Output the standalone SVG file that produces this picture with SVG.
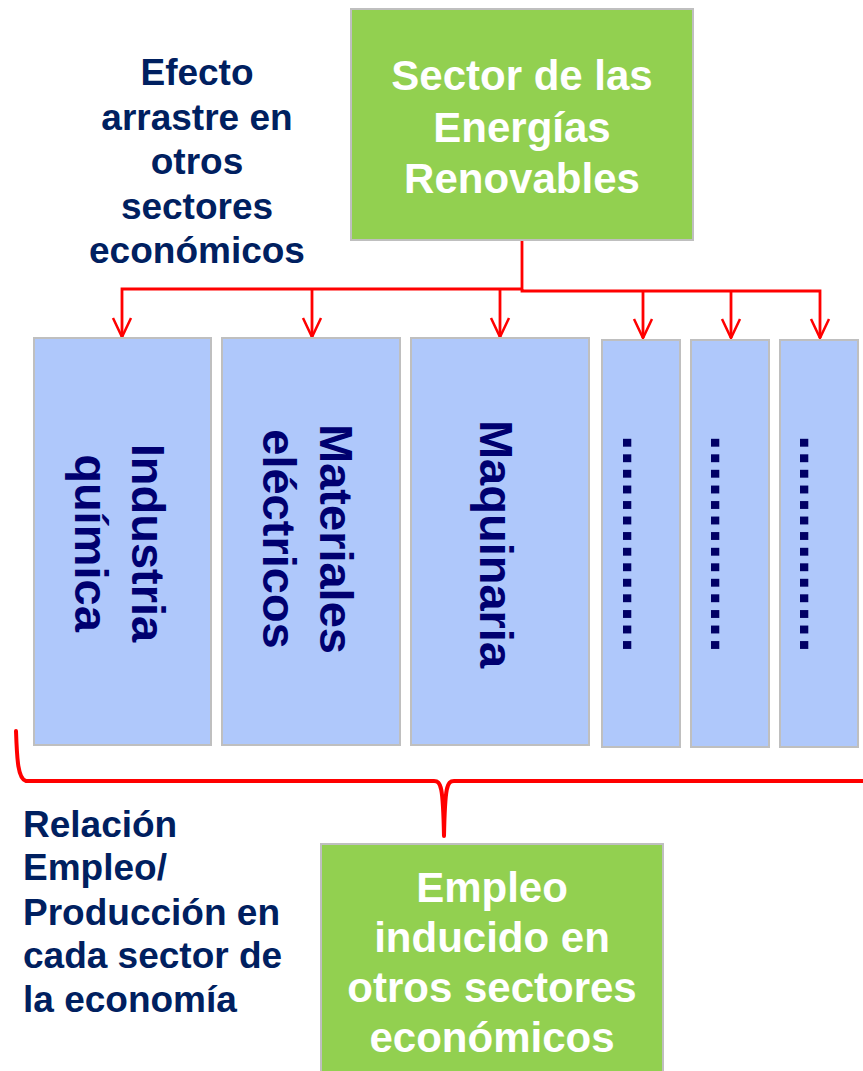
<svg xmlns="http://www.w3.org/2000/svg" width="863" height="1071" viewBox="0 0 863 1071">
<defs>
<style>
.t{font-family:"Liberation Sans",Arial,sans-serif;font-weight:bold}
.green{fill:#92D050;stroke:#BFBFBF;stroke-width:2}
.blue{fill:#AFC8FB;stroke:#BFBFBF;stroke-width:2}
.wt{fill:#FFFFFF;font-size:42px;text-anchor:middle}
.nt{fill:#002060;font-size:37px}
.rt{fill:#000070;font-size:47px;text-anchor:middle}
.dt{fill:#000066;font-size:56px}
.conn{fill:none;stroke:#FF0000;stroke-width:2.8}
</style>
<marker id="arr" markerUnits="userSpaceOnUse" markerWidth="26" markerHeight="26" viewBox="-23 -13 26 26" refX="0" refY="0" orient="auto" overflow="visible">
<path d="M-19,-9 L0,0 L-19,9" fill="none" stroke="#FF0000" stroke-width="2.5"/>
</marker>
</defs>
<g id="connectors">
<path class="conn" d="M522,240 L522,289 L122,289 L122,337" marker-end="url(#arr)"/>
<path class="conn" d="M312,289 L312,337" marker-end="url(#arr)"/>
<path class="conn" d="M500,289 L500,337" marker-end="url(#arr)"/>
<path class="conn" d="M522,289 L522,291 L820,291 L820,338" marker-end="url(#arr)"/>
<path class="conn" d="M643,291 L643,338" marker-end="url(#arr)"/>
<path class="conn" d="M731,291 L731,338" marker-end="url(#arr)"/>
<path d="M16,731 C17,760 18,779 26,781 L434,781 C441,781 443,786 444,836 C445,786 447,781 454,781 L863,781" fill="none" stroke="#FF0000" stroke-width="4" stroke-linecap="round" stroke-linejoin="round"/>
</g>
<g id="node-sector">
<rect class="green" x="351" y="9" width="342" height="231"/>
<text class="t wt" x="522" y="90">Sector de las</text>
<text class="t wt" x="522" y="142">Energías</text>
<text class="t wt" x="522" y="193">Renovables</text>
</g>
<g id="label-efecto">
<text class="t nt" text-anchor="middle" x="197" y="85">Efecto</text>
<text class="t nt" text-anchor="middle" x="197" y="129.5">arrastre en</text>
<text class="t nt" text-anchor="middle" x="197" y="174">otros</text>
<text class="t nt" text-anchor="middle" x="197" y="218.5">sectores</text>
<text class="t nt" text-anchor="middle" x="197" y="263">económicos</text>
</g>
<g id="node-industria">
<rect class="blue" x="34" y="338" width="177" height="407"/>
<text class="t rt" transform="translate(132,543) rotate(90)"><tspan x="0" y="0">Industria</tspan><tspan x="0" dy="57">química</tspan></text>
</g>
<g id="node-materiales">
<rect class="blue" x="222" y="338" width="178" height="407"/>
<text class="t rt" transform="translate(320,539) rotate(90)"><tspan x="0" y="0">Materiales</tspan><tspan x="0" dy="57">eléctricos</tspan></text>
</g>
<g id="node-maquinaria">
<rect class="blue" x="411" y="338" width="178" height="407"/>
<text class="t rt" transform="translate(480,544) rotate(90)">Maquinaria</text>
</g>
<g id="node-otros1">
<rect class="blue" x="602" y="340" width="78" height="407"/>
<text class="t dt" transform="translate(623,435) rotate(90)">..............</text>
</g>
<g id="node-otros2">
<rect class="blue" x="691" y="340" width="78" height="407"/>
<text class="t dt" transform="translate(711,435) rotate(90)">..............</text>
</g>
<g id="node-otros3">
<rect class="blue" x="780" y="340" width="78" height="407"/>
<text class="t dt" transform="translate(800,435) rotate(90)">..............</text>
</g>
<g id="label-relacion">
<text class="t nt" x="23" y="837">Relación</text>
<text class="t nt" x="23" y="880">Empleo/</text>
<text class="t nt" x="23" y="924.5">Producción en</text>
<text class="t nt" x="23" y="968">cada sector de</text>
<text class="t nt" x="23" y="1012">la economía</text>
</g>
<g id="node-empleo">
<rect class="green" x="321" y="844" width="342" height="240"/>
<text class="t wt" x="492" y="902">Empleo</text>
<text class="t wt" x="492" y="952">inducido en</text>
<text class="t wt" x="492" y="1002">otros sectores</text>
<text class="t wt" x="492" y="1052">económicos</text>
</g>
</svg>
